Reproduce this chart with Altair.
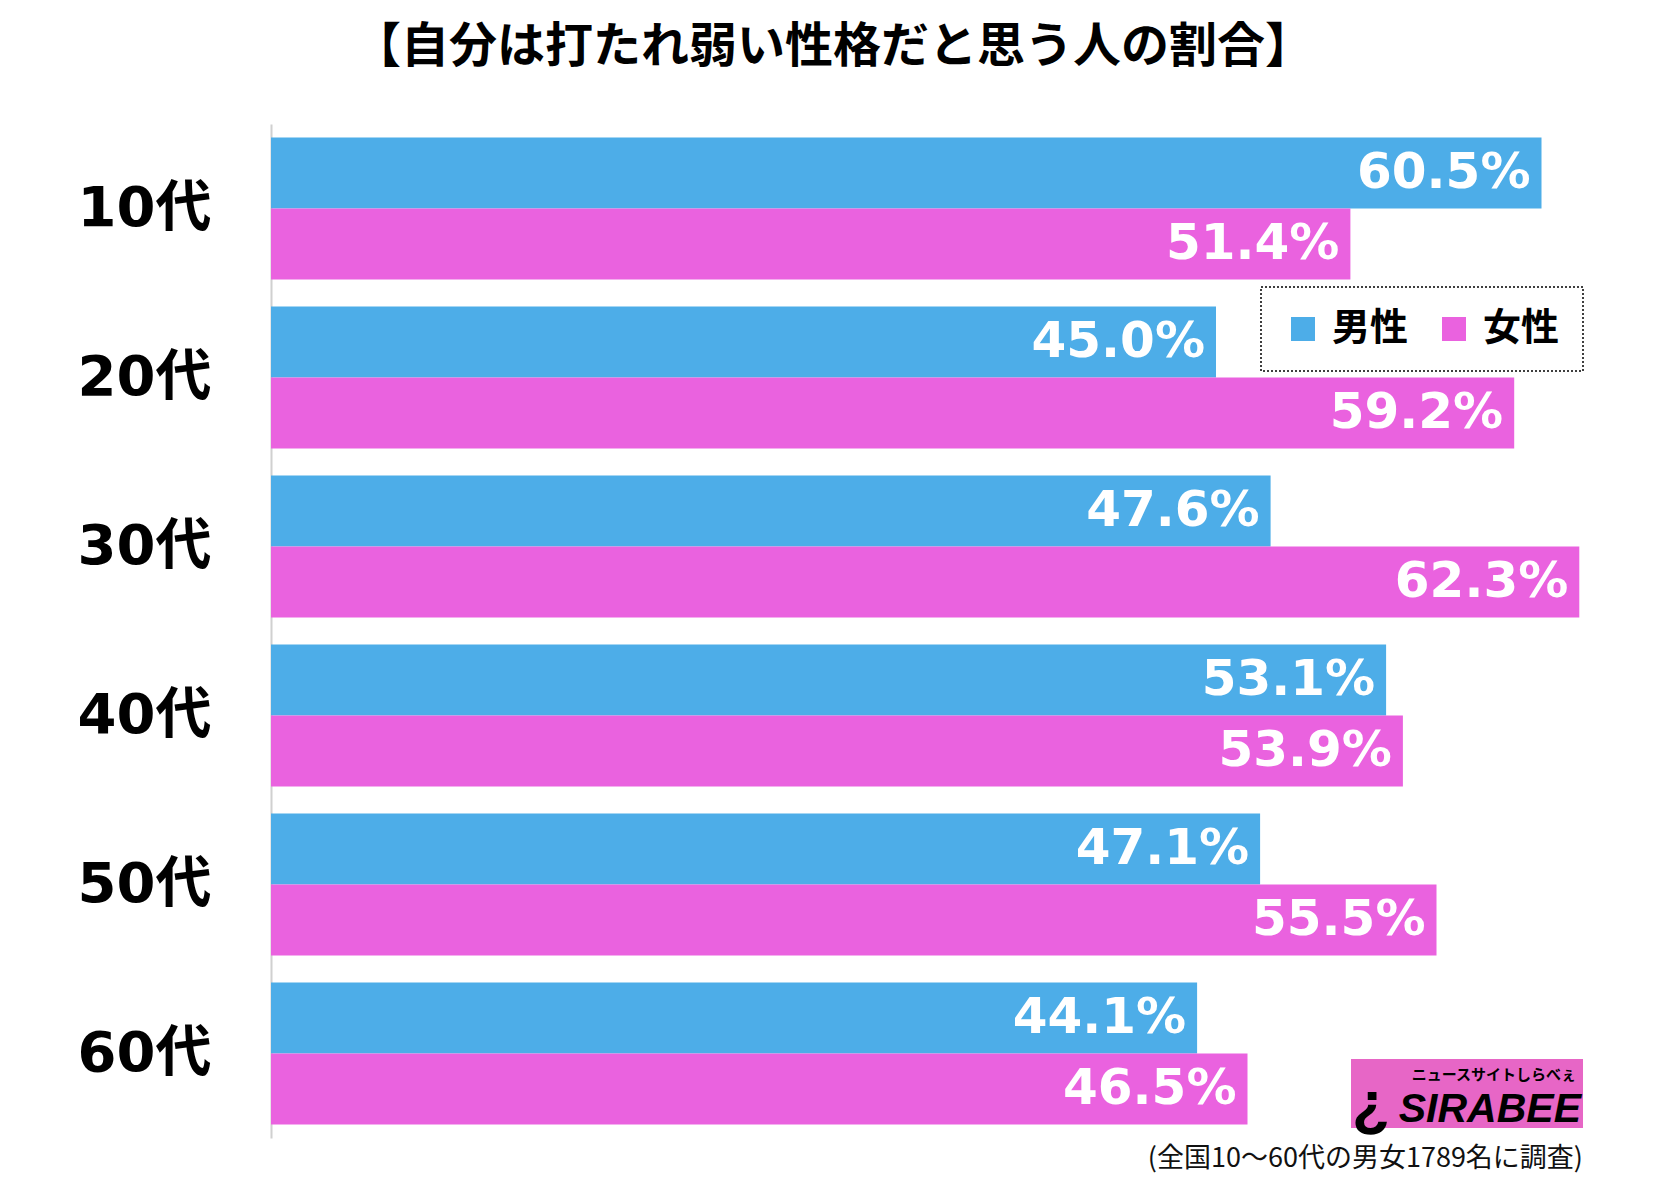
import altair as alt
import pandas as pd

ages = ["10代", "20代", "30代", "40代", "50代", "60代"]
sexes = ["男性", "女性"]
male = [60.5, 45.0, 47.6, 53.1, 47.1, 44.1]
female = [51.4, 59.2, 62.3, 53.9, 55.5, 46.5]
colors = ["#4DADE8", "#EA62DF"]

title_text = "【自分は打たれ弱い性格だと思う人の割合】"
note_text = "(全国10～60代の男女1789名に調査)"

rows = []
for a, m, f in zip(ages, male, female):
    rows.append({"age": a, "sex": "男性", "value": m})
    rows.append({"age": a, "sex": "女性", "value": f})
df = pd.DataFrame(rows)

W, H = 1365, 1014
JP = "Noto Sans CJK JP"

y_enc = alt.Y("age:N", sort=ages,
              scale=alt.Scale(paddingInner=0.16, paddingOuter=0.08),
              axis=alt.Axis(title=None, ticks=False, labelFontSize=56,
                            labelFont="DejaVu Sans, Noto Sans CJK JP",
                            labelFontWeight="bold", labelColor="#000", labelPadding=60,
                            domainColor="#d0d0d0", domainWidth=2))
yoff = alt.YOffset("sex:N", sort=sexes, scale=alt.Scale(paddingInner=0, paddingOuter=0))
x_enc = alt.X("value:Q", scale=alt.Scale(domain=[0, 65], nice=False), axis=None)

base = alt.Chart(df)

bars = base.mark_bar().encode(
    y=y_enc, yOffset=yoff, x=x_enc,
    color=alt.Color("sex:N", sort=sexes,
                    scale=alt.Scale(domain=sexes, range=colors),
                    legend=alt.Legend(title=None, orient="none", legendX=990, legendY=163,
                                      direction="horizontal", symbolType="square",
                                      symbolSize=576, symbolStrokeWidth=0, symbolOpacity=1,
                                      labelFont=JP, labelFontWeight="bold", labelFontSize=38,
                                      labelColor="#000", labelOffset=10, columnPadding=26,
                                      padding=23, strokeColor="#000", fillColor="#fff"))
)

labels = base.transform_calculate(
    label="format(datum.value, '.1f') + '%'"
).mark_text(align="right", baseline="middle", dx=-11, color="white",
            font="DejaVu Sans", fontWeight="bold", fontSize=50).encode(
    y=alt.Y("age:N", sort=ages), yOffset=alt.YOffset("sex:N", sort=sexes),
    x="value:Q", text="label:N"
)

one = alt.Data(values=[{"k": 1}])

logo_bg = alt.Chart(one).mark_rect(color="#E766C6").encode(
    x=alt.value(1080), x2=alt.value(1312), y=alt.value(935), y2=alt.value(1004)
)
logo_txt = alt.Chart(one).mark_text(align="right", baseline="alphabetic", font="Liberation Sans",
                                    fontWeight="bold", fontStyle="italic", fontSize=41,
                                    color="#000").encode(
    x=alt.value(1310), y=alt.value(998), text=alt.value("SIRABEE")
)
logo_i = alt.Chart(one).mark_text(align="center", baseline="alphabetic", font="Liberation Sans",
                                  fontWeight="bold", fontSize=62, color="#000").encode(
    x=alt.value(1100), y=alt.value(1000), text=alt.value("¿")
)
logo_sub = alt.Chart(one).mark_text(align="right", baseline="alphabetic", font=JP,
                                    fontWeight="bold", fontSize=15, color="#000").encode(
    x=alt.value(1305), y=alt.value(956), text=alt.value("ニュースサイトしらべぇ")
)
note = alt.Chart(one).mark_text(align="right", baseline="middle", font=JP,
                                fontSize=27, color="#111").encode(
    x=alt.value(1312), y=alt.value(1035), text=alt.value(note_text)
)
title = alt.Chart(one).mark_text(align="center", baseline="middle", font=JP,
                                 fontWeight="bold", fontSize=48, color="#000").encode(
    x=alt.value(562), y=alt.value(-76), text=alt.value(title_text)
)

chart = alt.layer(bars, labels, logo_bg, logo_txt, logo_i, logo_sub, note, title).properties(
    width=W, height=H,
    autosize=alt.AutoSizeParams(type="none"),
    padding={"left": 271, "top": 124, "right": 19, "bottom": 47},
    background="white"
).configure_view(stroke=None).configure_legend(strokeDash=[2, 2], strokeWidth=1.5)

chart.save("out.html", embed_options={"renderer": "svg", "actions": False})
